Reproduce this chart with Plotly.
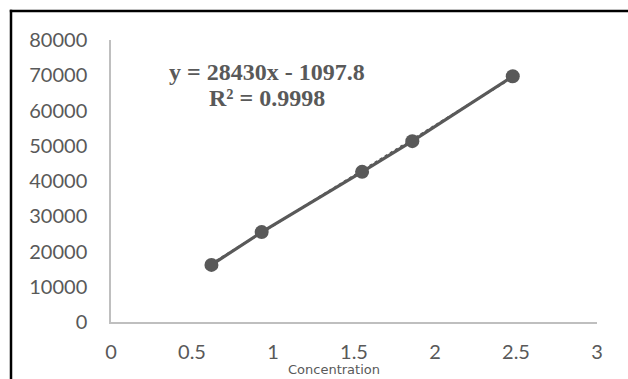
import plotly.graph_objects as go

# Calibration data
concentration = [0.62, 0.93, 1.55, 1.86, 2.48]
response = [16200, 25500, 42600, 51300, 69700]

# Linear trendline coefficients and fit quality
slope = 28430
intercept = -1097.8
r_squared = 0.9998

x_ticks = [0, 0.5, 1, 1.5, 2, 2.5, 3]
y_ticks = [0, 10000, 20000, 30000, 40000, 50000, 60000, 70000, 80000]

GRAY = "#595959"
W, H = 628, 379
L, R, T, B = 111, 31, 40, 57
PW, PH = W - L - R, H - T - B


def px_x(px):
    return (px - L) / PW


def px_y(py):
    return (H - B - py) / PH


trend_x = [min(concentration), max(concentration)]
trend_y = [slope * v + intercept for v in trend_x]

fig = go.Figure()

fig.add_trace(go.Scatter(
    x=trend_x, y=trend_y, mode="lines",
    line=dict(color=GRAY, width=2, dash="dot"),
    hoverinfo="skip", showlegend=False,
))
fig.add_trace(go.Scatter(
    x=concentration, y=response, mode="lines+markers",
    line=dict(color=GRAY, width=3.2),
    marker=dict(color=GRAY, size=14),
    showlegend=False,
))

eq_sign = "-" if intercept < 0 else "+"
fig.add_annotation(
    x=px_x(267), y=px_y(72), xref="paper", yref="paper",
    text=f"<b>y = {slope}x {eq_sign} {abs(intercept)}</b>", showarrow=False,
    font=dict(family="Liberation Serif", size=24, color=GRAY),
    xanchor="center", yanchor="middle",
)
fig.add_annotation(
    x=px_x(267), y=px_y(98), xref="paper", yref="paper",
    text=f"<b>R² = {r_squared}</b>", showarrow=False,
    font=dict(family="Liberation Serif", size=24, color=GRAY),
    xanchor="center", yanchor="middle",
)
fig.add_annotation(
    x=px_x(334), y=px_y(369), xref="paper", yref="paper",
    text="Concentration", showarrow=False,
    font=dict(family="DejaVu Sans", size=13, color=GRAY),
    xanchor="center", yanchor="middle",
)

# Outer frame: only the left and top edges fall inside the view
frame = dict(color="black", width=2.5)
fig.add_shape(type="line", xref="paper", yref="paper",
              x0=px_x(11), x1=px_x(11), y0=px_y(380), y1=px_y(9.8),
              line=frame, layer="above")
fig.add_shape(type="line", xref="paper", yref="paper",
              x0=px_x(9.8), x1=px_x(628), y0=px_y(11), y1=px_y(11),
              line=frame, layer="above")

fig.update_layout(
    width=W, height=H,
    margin=dict(l=L, r=R, t=T, b=B),
    paper_bgcolor="white", plot_bgcolor="white",
    font=dict(family="Lato", size=20, color=GRAY),
    xaxis=dict(
        range=[0, 3], tickvals=x_ticks, ticktext=[f"{v:g}" for v in x_ticks],
        showgrid=False, zeroline=False, showline=True,
        linecolor="#BFBFBF", linewidth=1.5, ticks="",
        ticklabelstandoff=11,
    ),
    yaxis=dict(
        range=[0, 80000], tickvals=y_ticks, ticktext=[str(v) for v in y_ticks],
        showgrid=False, zeroline=False, showline=True,
        linecolor="#BFBFBF", linewidth=1.5, ticks="",
        ticklabelstandoff=18,
    ),
)

fig.write_html("out.html")
